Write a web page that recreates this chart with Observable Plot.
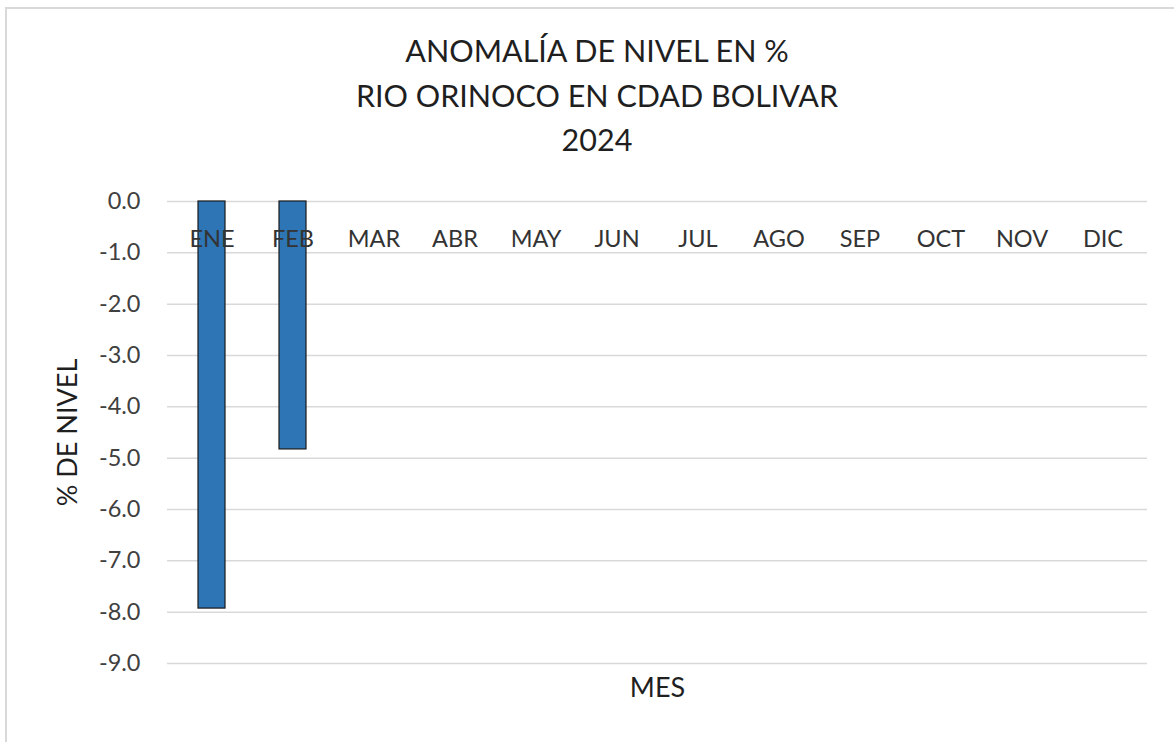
<!DOCTYPE html>
<html>
<head>
<meta charset="utf-8">
<script src="https://cdn.jsdelivr.net/npm/d3@7"></script>
<script src="https://cdn.jsdelivr.net/npm/@observablehq/plot@0.6"></script>
<style>
  html, body { margin: 0; padding: 0; background: #fff; overflow: hidden; }
  #wrap { position: relative; width: 1174px; height: 742px; font-family: Lato, "Open Sans", sans-serif; }
  #frame { position: absolute; left: 5px; top: 7px; width: 1200px; height: 800px; border-top: 2px solid #d9d9d9; border-left: 2px solid #d9d9d9; }
  .title { position: absolute; left: 0; width: 1194px; text-align: center; font-size: 30.5px; color: #1f1f1f; line-height: 1; }
  #chart { position: absolute; left: 0; top: 0; }
</style>
</head>
<body>
<div id="wrap">
  <div id="frame"></div>
  <div id="chart"></div>
  <div class="title" style="top:35px">ANOMALÍA DE NIVEL EN %</div>
  <div class="title" style="top:80px">RIO ORINOCO EN CDAD BOLIVAR</div>
  <div class="title" style="top:124px">2024</div>
</div>
<script>
const months = ["ENE","FEB","MAR","ABR","MAY","JUN","JUL","AGO","SEP","OCT","NOV","DIC"];
const barMonths = ["ENE","FEB"];
const anomalies = [-7.93, -4.83];
const yTicks = [0,-1,-2,-3,-4,-5,-6,-7,-8,-9];
const yLabel = "% DE NIVEL";
const xLabel = "MES";

const data = barMonths.map((m, i) => ({mes: m, valor: anomalies[i]}));

const chart = Plot.plot({
  width: 1174,
  height: 742,
  marginLeft: 167,
  marginRight: 27,
  marginTop: 201,
  marginBottom: 79,
  style: {fontFamily: "Lato, 'Open Sans', sans-serif", background: "transparent", overflow: "visible"},
  x: {domain: months, paddingInner: 0.67, paddingOuter: 0.335, axis: null},
  y: {domain: [-9, 0], axis: null},
  marks: [
    Plot.gridY(yTicks, {stroke: "#d9d9d9", strokeOpacity: 1, strokeWidth: 1.5}),
    Plot.axisY(yTicks, {tickSize: 0, tickPadding: 27, tickFormat: d => d.toFixed(1), fontSize: 23.5, fill: "#404040", label: null}),
    Plot.barY(data, {x: "mes", y1: 0, y2: "valor", fill: "#2e75b6", stroke: "#1a1a1a", strokeWidth: 1.2}),
    Plot.text(months, {x: d => d, y: 0, dy: 38, text: d => d, fontSize: 23.5, fill: "#333"}),
    Plot.text([yLabel], {frameAnchor: "left", textAnchor: "middle", dx: -99, rotate: -90, text: d => d, fontSize: 27, fill: "#1f1f1f"}),
    Plot.text([xLabel], {frameAnchor: "bottom", dy: 33, text: d => d, fontSize: 27, fill: "#1f1f1f"})
  ]
});
document.getElementById("chart").appendChild(chart);
</script>
</body>
</html>
